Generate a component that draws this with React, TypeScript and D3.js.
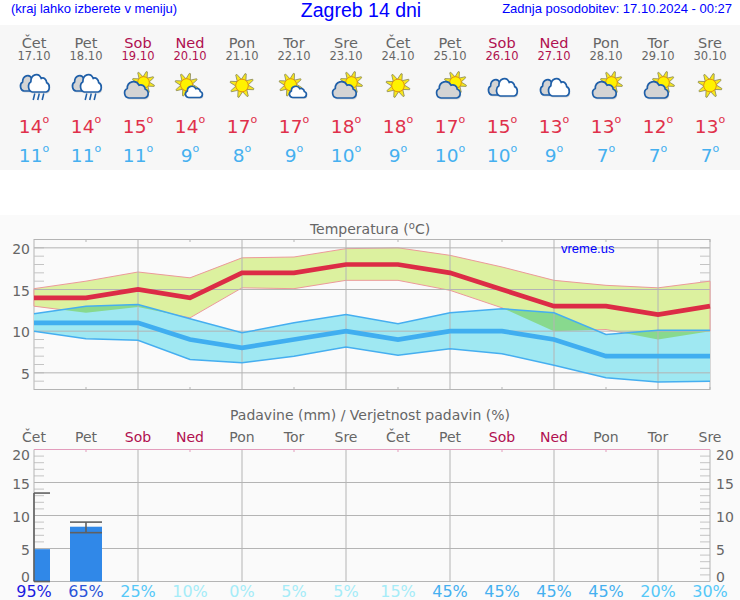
import React from 'react';
import * as d3 from 'd3';

// Forecast table
const days = ['Čet', 'Pet', 'Sob', 'Ned', 'Pon', 'Tor', 'Sre', 'Čet', 'Pet', 'Sob', 'Ned', 'Pon', 'Tor', 'Sre'];
const dates = ['17.10', '18.10', '19.10', '20.10', '21.10', '22.10', '23.10', '24.10', '25.10', '26.10', '27.10', '28.10', '29.10', '30.10'];
const icons = ['rain', 'rain', 'partly', 'mostlySun', 'sun', 'mostlySun', 'partly', 'sun', 'partly', 'cloud', 'cloud', 'partly', 'partly', 'sun'];
const tempMax = [14, 14, 15, 14, 17, 17, 18, 18, 17, 15, 13, 13, 12, 13];
const tempMin = [11, 11, 11, 9, 8, 9, 10, 9, 10, 10, 9, 7, 7, 7];

// Spread bands
const maxHigh = [15.1, 16, 17.1, 16.4, 18.8, 18.9, 19.9, 20, 19.1, 17.7, 16.1, 15.5, 15.2, 16];
const maxLow = [13, 12.2, 12.9, 11.6, 15.2, 15.1, 16.1, 16.1, 14.9, 12.8, 10, 10.2, 9, 10];
const minHigh = [12.1, 13, 13.2, 11.5, 9.8, 11, 12, 10.9, 12.2, 12.7, 12.2, 9.6, 10.1, 10.1];
const minLow = [10, 9.1, 8.9, 6.6, 6.2, 7, 8.1, 7.1, 7.9, 7.3, 5.9, 4.4, 3.9, 4];

// Precipitation
const rainMm = [4.9, 8.3];
const rainLow = [0, 7.4];
const rainHigh = [13.4, 9];
const rainProb = [95, 65, 25, 10, 0, 5, 5, 15, 45, 45, 45, 45, 20, 30];

const tempTicks = [5, 10, 15, 20];
const rainTicks = [0, 5, 10, 15, 20];
const tempMinor = d3.range(4, 21);
const rainMinor = d3.range(1, 20);

const font = 'DejaVu Sans';
const grey = '#666666';
const weekend = '#b0104f';
const grid = '#b4b4b4';
const minorGrid = '#c4c4c4';
const outline = '#1f5fa8';

const dayColor = (d: string) => (d === 'Sob' || d === 'Ned' ? weekend : grey);
const probColor = (p: number) => {
  if (p >= 90) return '#1a1ae0';
  if (p >= 60) return '#2a55d8';
  if (p >= 40) return '#45b0f0';
  if (p >= 20) return '#55c8f8';
  return '#a5ecf8';
};
// the rain axis labels are nudged to stay inside the plot
const rainLabelDy = (t: number) => (t === 20 ? 10.5 : t === 0 ? 0 : 6.5);

const x = d3.scaleLinear().domain([0, 13]).range([34, 710]);
const yT = d3.scaleLinear().domain([3, 21]).range([389.5, 239.5]);
const yR = d3.scaleLinear().domain([0, 20]).range([581.5, 449.5]);

const Sun = ({ cx, cy, r }: { cx: number; cy: number; r: number }) => (
  <g>
    {d3.range(8).map((i) => {
      const a = (i * Math.PI) / 4 + 0.3;
      const p = (k: number, da: number) => `${cx + r * k * Math.cos(a + da)},${cy + r * k * Math.sin(a + da)}`;
      return <polygon key={i} points={`${p(1, 0.38)} ${p(1.95, 0.05)} ${p(1.95, -0.05)} ${p(1, -0.38)}`} fill="#f8e81c" stroke="#85855a" strokeWidth={0.8} />;
    })}
    <circle cx={cx} cy={cy} r={r} fill="#fff200" stroke="#e8960c" strokeWidth={1} />
  </g>
);

// puffy cloud outline in a 100x60 box
const cloudShape = 'M20 60A19 19 0 0 1 13 24A25 25 0 0 1 60 12A18 18 0 0 1 85 27A17 17 0 0 1 82 60Z';

const Cloud = ({ x0, y0, w, h, fill }: { x0: number; y0: number; w: number; h: number; fill: string }) => {
  const sx = w / 100;
  const sy = h / 60;
  return (
    <g>
      <path d={cloudShape} transform={`translate(${x0 + 1},${y0 + 1.5}) scale(${sx},${sy})`} fill="#a0a0a0" opacity={0.35} />
      <path d={cloudShape} transform={`translate(${x0},${y0}) scale(${sx},${sy})`} fill={fill} stroke={outline} strokeWidth={1.7} vectorEffect="non-scaling-stroke" />
    </g>
  );
};

const Icon = ({ kind, cx }: { kind: string; cx: number }) => {
  if (kind === 'sun') return <Sun cx={cx} cy={85.5} r={6.3} />;
  if (kind === 'mostlySun')
    return (
      <g>
        <Sun cx={cx - 3.5} cy={84.7} r={6} />
        <Cloud x0={cx - 5} y0={86.5} w={18} h={11} fill="#ffffff" />
      </g>
    );
  if (kind === 'partly')
    return (
      <g>
        <Sun cx={cx + 5.5} cy={82.5} r={5.8} />
        <Cloud x0={cx - 14} y0={82} w={25} h={16} fill="#d4d4d4" />
      </g>
    );
  const dy = kind === 'rain' ? 0 : 4;
  return (
    <g>
      <Cloud x0={cx - 14} y0={76 + dy} w={20} h={15} fill="#d4d4d4" />
      <Cloud x0={cx - 6} y0={75 + dy} w={22} h={17} fill="#ffffff" />
      {kind === 'rain' &&
        [0, 4.5, 9].map((dx) => <line key={dx} x1={cx + dx + 0.8} y1={93.5} x2={cx + dx - 0.8} y2={100} stroke={outline} strokeWidth={1.5} />)}
    </g>
  );
};

// number followed by a raised small degree mark
const Degree = ({ cx, y, v, color }: { cx: number; y: number; v: number; color: string }) => (
  <text x={cx} y={y} textAnchor="middle" fontSize={18.5} fill={color} fontFamily={font}>
    {v}
    <tspan dy={-10} fontSize={11}>o</tspan>
  </text>
);

export default function App() {
  const idx = d3.range(days.length);
  const band = (hi: number[], lo: number[]) =>
    d3.area<number>().x((i) => x(i)).y0((i) => yT(lo[i])).y1((i) => yT(hi[i]))(idx) as string;
  const line = (v: number[]) => d3.line<number>().x((i) => x(i)).y((i) => yT(v[i]))(idx) as string;
  const barW = x(1) - x(0) - 20;

  return (
    <svg width={740} height={600} style={{ position: 'absolute', left: 0, top: 0, display: 'block' }}>
      <rect width={740} height={600} fill="#ffffff" />
      <rect y={25} width={740} height={145} fill="#f7f7f7" />
      <rect y={215} width={740} height={385} fill="#fafafa" />

      {/* Header */}
      <text x={11} y={13} fontSize={13} fill="#0000ff" fontFamily="Liberation Sans">(kraj lahko izberete v meniju)</text>
      <text x={361} y={17} textAnchor="middle" fontSize={19.5} fill="#0000ff" fontFamily="Liberation Sans">Zagreb 14 dni</text>
      <text x={732} y={13} textAnchor="end" fontSize={13} fill="#0000ff" fontFamily="Liberation Sans">Zadnja posodobitev: 17.10.2024 - 00:27</text>

      {/* Forecast table */}
      {idx.map((i) => {
        const cx = x(i);
        return (
          <g key={i}>
            <text x={cx} y={48} textAnchor="middle" fontSize={14.5} fill={dayColor(days[i])} fontFamily={font}>{days[i]}</text>
            <text x={cx} y={60} textAnchor="middle" fontSize={11.5} fill={dayColor(days[i])} fontFamily={font}>{dates[i]}</text>
            <Icon kind={icons[i]} cx={cx} />
            <Degree cx={cx} y={132.5} v={tempMax[i]} color="#e0304a" />
            <Degree cx={cx} y={162} v={tempMin[i]} color="#45b0f0" />
          </g>
        );
      })}

      {/* Temperature chart */}
      <text x={370} y={234} textAnchor="middle" fontSize={14} fill={grey} fontFamily={font}>
        Temperatura (<tspan dy={-5} fontSize={10}>o</tspan><tspan dy={5}>C)</tspan>
      </text>
      <rect x={34} y={239.5} width={676} height={150} fill="none" stroke={grid} />
      {tempMinor.map((t) => (
        <g key={t} stroke={minorGrid}>
          <line x1={34} x2={44} y1={yT(t)} y2={yT(t)} />
          <line x1={700} x2={710} y1={yT(t)} y2={yT(t)} />
        </g>
      ))}
      {idx.filter((i) => i % 2 === 1).map((i) => (
        <g key={i} stroke={grid}>
          <line x1={x(i)} x2={x(i)} y1={239.5} y2={242} />
          <line x1={x(i)} x2={x(i)} y1={387} y2={389.5} />
        </g>
      ))}
      <path d={band(maxHigh, maxLow)} fill="#dcf19f" stroke="#ec9a9a" strokeWidth={1} />
      <path d={band(minHigh, minLow)} fill="#9fe8f2" />
      <clipPath id="overlap">
        <path d={band(maxHigh, maxLow)} />
      </clipPath>
      <path d={band(minHigh, minLow)} fill="#88d98e" clipPath="url(#overlap)" />
      {tempTicks.map((t) => (
        <line key={t} x1={34} x2={710} y1={yT(t)} y2={yT(t)} stroke={grid} />
      ))}
      {idx.filter((i) => i % 2 === 0 && i > 0).map((i) => (
        <line key={i} x1={x(i)} x2={x(i)} y1={239.5} y2={389.5} stroke={grid} />
      ))}
      <path d={line(minHigh)} fill="none" stroke="#45aef0" strokeWidth={1.5} />
      <path d={line(minLow)} fill="none" stroke="#45aef0" strokeWidth={1.5} />
      <path d={line(tempMin)} fill="none" stroke="#40aef0" strokeWidth={4.7} />
      <path d={line(tempMax)} fill="none" stroke="#dc2c46" strokeWidth={4.7} />
      {tempTicks.map((t) => (
        <text key={t} x={30} y={yT(t) + 6} textAnchor="end" fontSize={14} fill={grey} fontFamily={font}>{t}</text>
      ))}
      <text x={561} y={253} fontSize={13} fill="#0000ff" fontFamily="Liberation Sans">vreme.us</text>

      {/* Precipitation chart */}
      <text x={370} y={420} textAnchor="middle" fontSize={14} fill={grey} fontFamily={font}>Padavine (mm) / Verjetnost padavin (%)</text>
      {idx.map((i) => (
        <text key={i} x={x(i)} y={442} textAnchor="middle" fontSize={14} fill={dayColor(days[i])} fontFamily={font}>{days[i]}</text>
      ))}
      {rainMinor.map((t) => (
        <g key={t} stroke={minorGrid}>
          <line x1={34} x2={44} y1={yR(t)} y2={yR(t)} />
          <line x1={700} x2={710} y1={yR(t)} y2={yR(t)} />
        </g>
      ))}
      {rainTicks.filter((t) => t !== 20).map((t) => (
        <line key={t} x1={34} x2={710} y1={yR(t)} y2={yR(t)} stroke={grid} />
      ))}
      {idx.filter((i) => i % 2 === 0 || i === 13).map((i) => (
        <line key={i} x1={x(i)} x2={x(i)} y1={449.5} y2={581.5} stroke={grid} />
      ))}
      <line x1={34} x2={710} y1={yR(20)} y2={yR(20)} stroke="#e39cbc" />
      {idx.filter((i) => i % 2 === 1 && i < 13).map((i) => (
        <line key={i} x1={x(i)} x2={x(i)} y1={449.5} y2={452} stroke="#e39cbc" />
      ))}
      {rainTicks.map((t) => (
        <g key={t} fontSize={14} fill={grey} fontFamily={font}>
          <text x={30} y={yR(t) + rainLabelDy(t)} textAnchor="end">{t}</text>
          <text x={716} y={yR(t) + rainLabelDy(t)}>{t}</text>
        </g>
      ))}
      {rainMm.map((v, i) => {
        const left = Math.max(34, x(i) - barW / 2);
        return <rect key={i} x={left} y={yR(v)} width={x(i) + barW / 2 - left} height={yR(0) - yR(v)} fill="#3088e8" />;
      })}
      {rainMm.map((_, i) => {
        const left = Math.max(34, x(i) - barW / 2);
        const right = x(i) + barW / 2;
        return (
          <g key={i} stroke="#606060" strokeWidth={1.6}>
            <line x1={x(i)} x2={x(i)} y1={yR(rainLow[i])} y2={yR(rainHigh[i])} />
            <line x1={left} x2={right} y1={yR(rainHigh[i])} y2={yR(rainHigh[i])} />
            <line x1={left} x2={right} y1={yR(rainLow[i])} y2={yR(rainLow[i])} />
          </g>
        );
      })}
      {rainProb.map((p, i) => (
        <text key={i} x={x(i)} y={597} textAnchor="middle" fontSize={16} fill={probColor(p)} fontFamily={font}>{p}%</text>
      ))}
    </svg>
  );
}
